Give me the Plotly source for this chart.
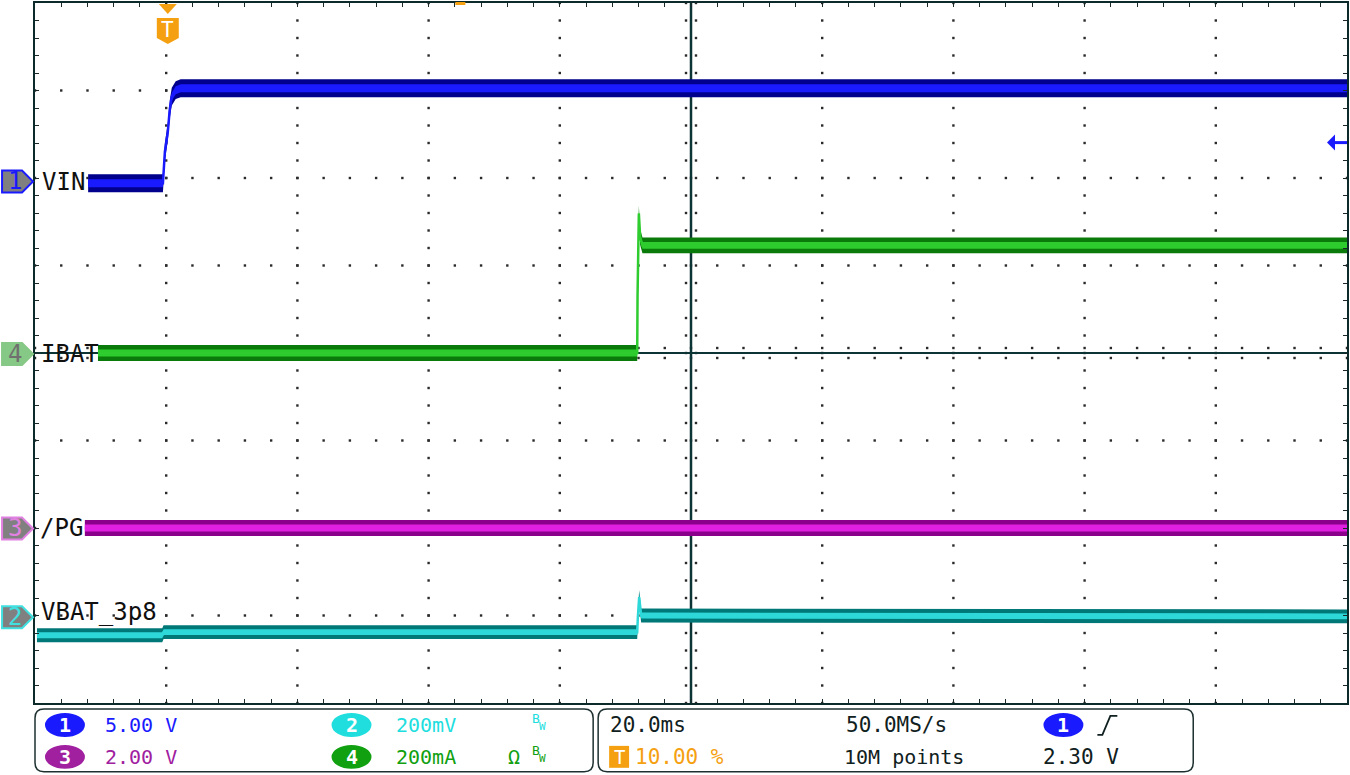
import plotly.graph_objects as go

# ---------------- data ----------------
T_LEFT_MS = -20.0          # left edge of screen (trigger at 10 %)
T_DIV_MS = 20.0            # 20.0 ms / div
N_XDIV = 10
N_YDIV = 8

CH1_SCALE = 5.0            # V / div   (VIN)
CH2_SCALE = 200.0          # mV / div  (VBAT_3p8)
CH3_SCALE = 2.0            # V / div   (/PG)
CH4_SCALE = 200.0          # mA / div  (IBAT)

CH1_OFFSET_DIV = 1.96
CH2_OFFSET_DIV = -3.02
CH3_OFFSET_DIV = -2.0
CH4_OFFSET_DIV = 0.0

vin_t_ms = [-11.9, -0.5, -0.2, 0.25, 0.55, 0.85, 1.45, 2.2, 180.0]
vin_v = [-0.1, -0.1, 1.7, 2.85, 4.15, 4.85, 5.22, 5.33, 5.33]

ibat_t_ms = [-10.4, 71.8, 71.85, 72.05, 72.25, 72.6, 180.0]
ibat_ma = [0, 0, 130, 319, 265, 246, 246]

pg_t_ms = [-12.4, 180.0]
pg_v = [0.0, 0.0]

vbat_t_ms = [-19.7, -0.6, -0.4, 71.8, 71.9, 72.1, 72.4, 180.0]
vbat_mv = [-41, -41, -34, -34, 0, 46, 4, 2]

trace_labels = ["VIN", "IBAT", "/PG", "VBAT_3p8"]

# ---------------- geometry helpers ----------------
W, H = 1350, 775
L, R, T, B = 35, 1349, 1, 703
PW, PH = R - L, B - T
DIV_PX = PH / N_YDIV
MONO = "DejaVu Sans Mono"


def px(x, y):
    return (x - L) / PW, (B - y) / PH


def path(points):
    s = ""
    for i, (x, y) in enumerate(points):
        a, b = px(x, y)
        s += ("M" if i == 0 else "L") + f"{a:.5f},{b:.5f} "
    return s + "Z"


def to_div(vals, scale, offset):
    return [v / scale + offset for v in vals]


fig = go.Figure()

# ---------------- grid dots ----------------
t_right = T_LEFT_MS + N_XDIV * T_DIV_MS
t_center = T_LEFT_MS + N_XDIV / 2 * T_DIV_MS
gx, gy = [], []
for k in range(1, N_XDIV):
    t = T_LEFT_MS + k * T_DIV_MS
    if abs(t - t_center) < 1e-9:
        continue
    for j in range(0, N_YDIV * 5 + 1):
        gx.append(t)
        gy.append(-N_YDIV / 2 + j * 0.2)
for k in range(1, N_YDIV):
    yv = -N_YDIV / 2 + k
    if yv == 0:
        continue
    for j in range(0, N_XDIV * 5 + 1):
        gx.append(T_LEFT_MS + j * T_DIV_MS / 5)
        gy.append(yv)
fig.add_trace(go.Scatter(x=gx, y=gy, mode="markers",
                         marker=dict(size=2.4, color="#2a2a2a", symbol="square"),
                         hoverinfo="skip", showlegend=False))

# center cross ticks (dot triplets)
cx, cy = [], []
dt = 5 / PW * N_XDIV * T_DIV_MS
dy = 5 / DIV_PX
for j in range(0, N_YDIV * 5 + 1):
    yv = -N_YDIV / 2 + j * 0.2
    for o in (-dt, dt):
        cx.append(t_center + o)
        cy.append(yv)
for j in range(0, N_XDIV * 5 + 1):
    t = T_LEFT_MS + j * T_DIV_MS / 5
    for o in (-dy, dy):
        cx.append(t)
        cy.append(o)
fig.add_trace(go.Scatter(x=cx, y=cy, mode="markers",
                         marker=dict(size=2.4, color="#2a2a2a", symbol="square"),
                         hoverinfo="skip", showlegend=False))

# center lines
fig.add_trace(go.Scatter(x=[T_LEFT_MS, t_right], y=[0, 0], mode="lines",
                         line=dict(color="#0c3434", width=2), hoverinfo="skip", showlegend=False))
fig.add_trace(go.Scatter(x=[t_center, t_center], y=[-N_YDIV / 2, N_YDIV / 2], mode="lines",
                         line=dict(color="#0c3434", width=2.5), hoverinfo="skip", showlegend=False))


# ---------------- traces (noise bands) ----------------
def band(t, ydiv, half_px, color):
    h = half_px / DIV_PX
    lo = [v - h for v in ydiv]
    hi = [v + h for v in ydiv]
    fig.add_trace(go.Scatter(x=t, y=lo, mode="lines", line=dict(width=0, color=color),
                             hoverinfo="skip", showlegend=False))
    fig.add_trace(go.Scatter(x=t, y=hi, mode="lines", line=dict(width=0, color=color),
                             fill="tonexty", fillcolor=color, hoverinfo="skip", showlegend=False))


channels = [
    (ibat_t_ms, to_div(ibat_ma, CH4_SCALE, CH4_OFFSET_DIV), 8, 3.5, "#0a7a0a", "#2ecc2e"),
    (pg_t_ms, to_div(pg_v, CH3_SCALE, CH3_OFFSET_DIV), 8, 3.5, "#8a008a", "#e020e0"),
    (vbat_t_ms, to_div(vbat_mv, CH2_SCALE, CH2_OFFSET_DIV), 7, 3, "#007878", "#2ed8d8"),
    (vin_t_ms, to_div(vin_v, CH1_SCALE, CH1_OFFSET_DIV), 9, 4, "#00008c", "#1a1aff"),
]
for t, yd, ho, hi_, dark, bright in channels:
    band(t, yd, ho, dark)
    band(t, yd, hi_, bright)
    fig.add_trace(go.Scatter(x=t, y=yd, mode="lines", line=dict(color=bright, width=2.5),
                             hoverinfo="skip", showlegend=False))

# ---------------- shapes & annotations ----------------
shapes, ann = [], []

# channel markers at left
markers = [
    ("1", 180, "#808080", "#1a1aff", "#1a1aff"),
    ("4", 353, "#86c886", "#86c886", "#707070"),
    ("3", 528, "#808080", "#e080e0", "#e080e0"),
    ("2", 617, "#808080", "#40e0e0", "#40e0e0"),
]
for num, y, fillc, linec, txtc in markers:
    shapes.append(dict(type="path", xref="paper", yref="paper",
                       path=path([(2, y - 11), (22, y - 11), (33, y), (22, y + 11), (2, y + 11)]),
                       fillcolor=fillc, line=dict(color=linec, width=2)))
    a, b = px(15, y)
    ann.append(dict(x=a, y=b, xref="paper", yref="paper", text=num, showarrow=False,
                    font=dict(family=MONO, size=24, color=txtc), xanchor="center", yanchor="middle"))

# trace labels
for text, (x, y) in zip(trace_labels, [(40, 181), (39, 353), (38, 527), (39, 612)]):
    a, b = px(x, y)
    ann.append(dict(x=a, y=b, xref="paper", yref="paper", text=text, showarrow=False,
                    font=dict(family=MONO, size=24, color="#101010"), xanchor="left", yanchor="middle"))

# trigger marker
ORANGE = "#f5a011"
shapes.append(dict(type="path", xref="paper", yref="paper",
                   path=path([(159, 2), (177, 2), (168, 12)]), fillcolor=ORANGE, line=dict(width=0)))
shapes.append(dict(type="path", xref="paper", yref="paper",
                   path=path([(157, 16), (179, 16), (179, 36), (168, 42), (157, 36)]),
                   fillcolor=ORANGE, line=dict(width=0)))
a, b = px(168, 28)
ann.append(dict(x=a, y=b, xref="paper", yref="paper", text="T", showarrow=False,
                font=dict(family=MONO, size=21, color="white"), xanchor="center", yanchor="middle"))
shapes.append(dict(type="rect", xref="paper", yref="paper",
                   x0=px(456, 0)[0], x1=px(466, 0)[0], y0=px(0, 3)[1], y1=px(0, 0)[1],
                   fillcolor=ORANGE, line=dict(width=0)))

# right side blue arrow
shapes.append(dict(type="path", xref="paper", yref="paper",
                   path=path([(1329, 141), (1337, 133), (1337, 149)]), fillcolor="#1a1aff",
                   line=dict(width=0)))
shapes.append(dict(type="line", xref="paper", yref="paper",
                   x0=px(1335, 141)[0], y0=px(1335, 141)[1], x1=px(1349, 141)[0], y1=px(1349, 141)[1],
                   line=dict(color="#1a1aff", width=3)))


# info panel boxes
def rbox(x0, y0, x1, y1, r=9):
    a0, b0 = px(x0, y1)
    a1, b1 = px(x1, y0)
    ra = r / PW
    rb = r / PH
    return (f"M{a0 + ra},{b0} L{a1 - ra},{b0} Q{a1},{b0} {a1},{b0 + rb} "
            f"L{a1},{b1 - rb} Q{a1},{b1} {a1 - ra},{b1} L{a0 + ra},{b1} "
            f"Q{a0},{b1} {a0},{b1 - rb} L{a0},{b0 + rb} Q{a0},{b0} {a0 + ra},{b0} Z")


for x0, x1 in ((35, 594), (599, 1195)):
    shapes.append(dict(type="path", xref="paper", yref="paper", path=rbox(x0, 709, x1, 772),
                       line=dict(color="#1e3030", width=1.5)))


def pill(cx, cy, num, color, w=40, h=24):
    a0, b0 = px(cx - w / 2, cy + h / 2)
    a1, b1 = px(cx + w / 2, cy - h / 2)
    shapes.append(dict(type="circle", xref="paper", yref="paper", x0=a0, x1=a1, y0=b0, y1=b1,
                       fillcolor=color, line=dict(width=0)))
    a, b = px(cx, cy)
    ann.append(dict(x=a, y=b, xref="paper", yref="paper", text=f"<b>{num}</b>", showarrow=False,
                    font=dict(family=MONO, size=20, color="white"), xanchor="center", yanchor="middle"))


def txt(x, y, s, color, size=21):
    a, b = px(x, y)
    ann.append(dict(x=a, y=b, xref="paper", yref="paper", text=s, showarrow=False,
                    font=dict(family=MONO, size=size, color=color), xanchor="left", yanchor="middle"))


def bw(x, y, color):
    txt(x, y - 3, "B", color, 13)
    txt(x + 7, y + 5, "W", color, 11)


BLUE, CYAN, PURP, GREEN, DARK = "#1a1aff", "#20dede", "#a020a0", "#10a010", "#102020"
pill(65, 725, "1", BLUE)
txt(103, 725, "5.00 V", BLUE, 20)
pill(352, 725, "2", CYAN)
txt(395, 725, "200mV", CYAN, 20)
bw(531, 722, CYAN)
pill(65, 757, "3", PURP)
txt(103, 757, "2.00 V", PURP, 20)
pill(352, 757, "4", GREEN)
txt(395, 757, "200mA", GREEN, 20)
txt(507, 757, "Ω", GREEN, 20)
bw(531, 754, GREEN)

txt(609, 725, "20.0ms", DARK, 21)
txt(845, 725, "50.0MS/s", DARK, 21)
pill(1065, 725, "1", BLUE)
shapes.append(dict(type="path", xref="paper", yref="paper",
                   path=path([(1099, 735), (1104, 735), (1112, 716), (1119, 716), (1112, 716), (1104, 735)]),
                   line=dict(color=DARK, width=1.8)))
shapes.append(dict(type="rect", xref="paper", yref="paper",
                   x0=px(610, 0)[0], x1=px(630, 0)[0], y0=px(0, 768)[1], y1=px(0, 746)[1],
                   fillcolor=ORANGE, line=dict(width=0)))
a, b = px(620, 757)
ann.append(dict(x=a, y=b, xref="paper", yref="paper", text="T", showarrow=False,
                font=dict(family=MONO, size=19, color="white"), xanchor="center", yanchor="middle"))
txt(634, 757, "10.00 %", ORANGE, 21)
txt(843, 757, "10M points", DARK, 20)
txt(1043, 757, "2.30 V", DARK, 21)

fig.update_layout(
    width=W, height=H,
    margin=dict(l=L, r=W - R, t=T, b=H - B),
    paper_bgcolor="white", plot_bgcolor="white",
    showlegend=False,
    shapes=shapes, annotations=ann,
    xaxis=dict(range=[T_LEFT_MS, t_right], showgrid=False, zeroline=False, showticklabels=False,
               ticks="inside", tick0=T_LEFT_MS, dtick=T_DIV_MS / 5, ticklen=4, tickcolor="#1a2a2a",
               showline=True, linecolor="#0c2a2a", linewidth=2, mirror="ticks"),
    yaxis=dict(range=[-N_YDIV / 2, N_YDIV / 2], showgrid=False, zeroline=False, showticklabels=False,
               ticks="inside", tick0=0, dtick=0.2, ticklen=4, tickcolor="#1a2a2a",
               showline=True, linecolor="#0c2a2a", linewidth=2, mirror="ticks"),
)

fig.write_html("out.html", config={"displayModeBar": False},
               post_script="document.body.style.margin='0';document.body.style.overflow='hidden';")
